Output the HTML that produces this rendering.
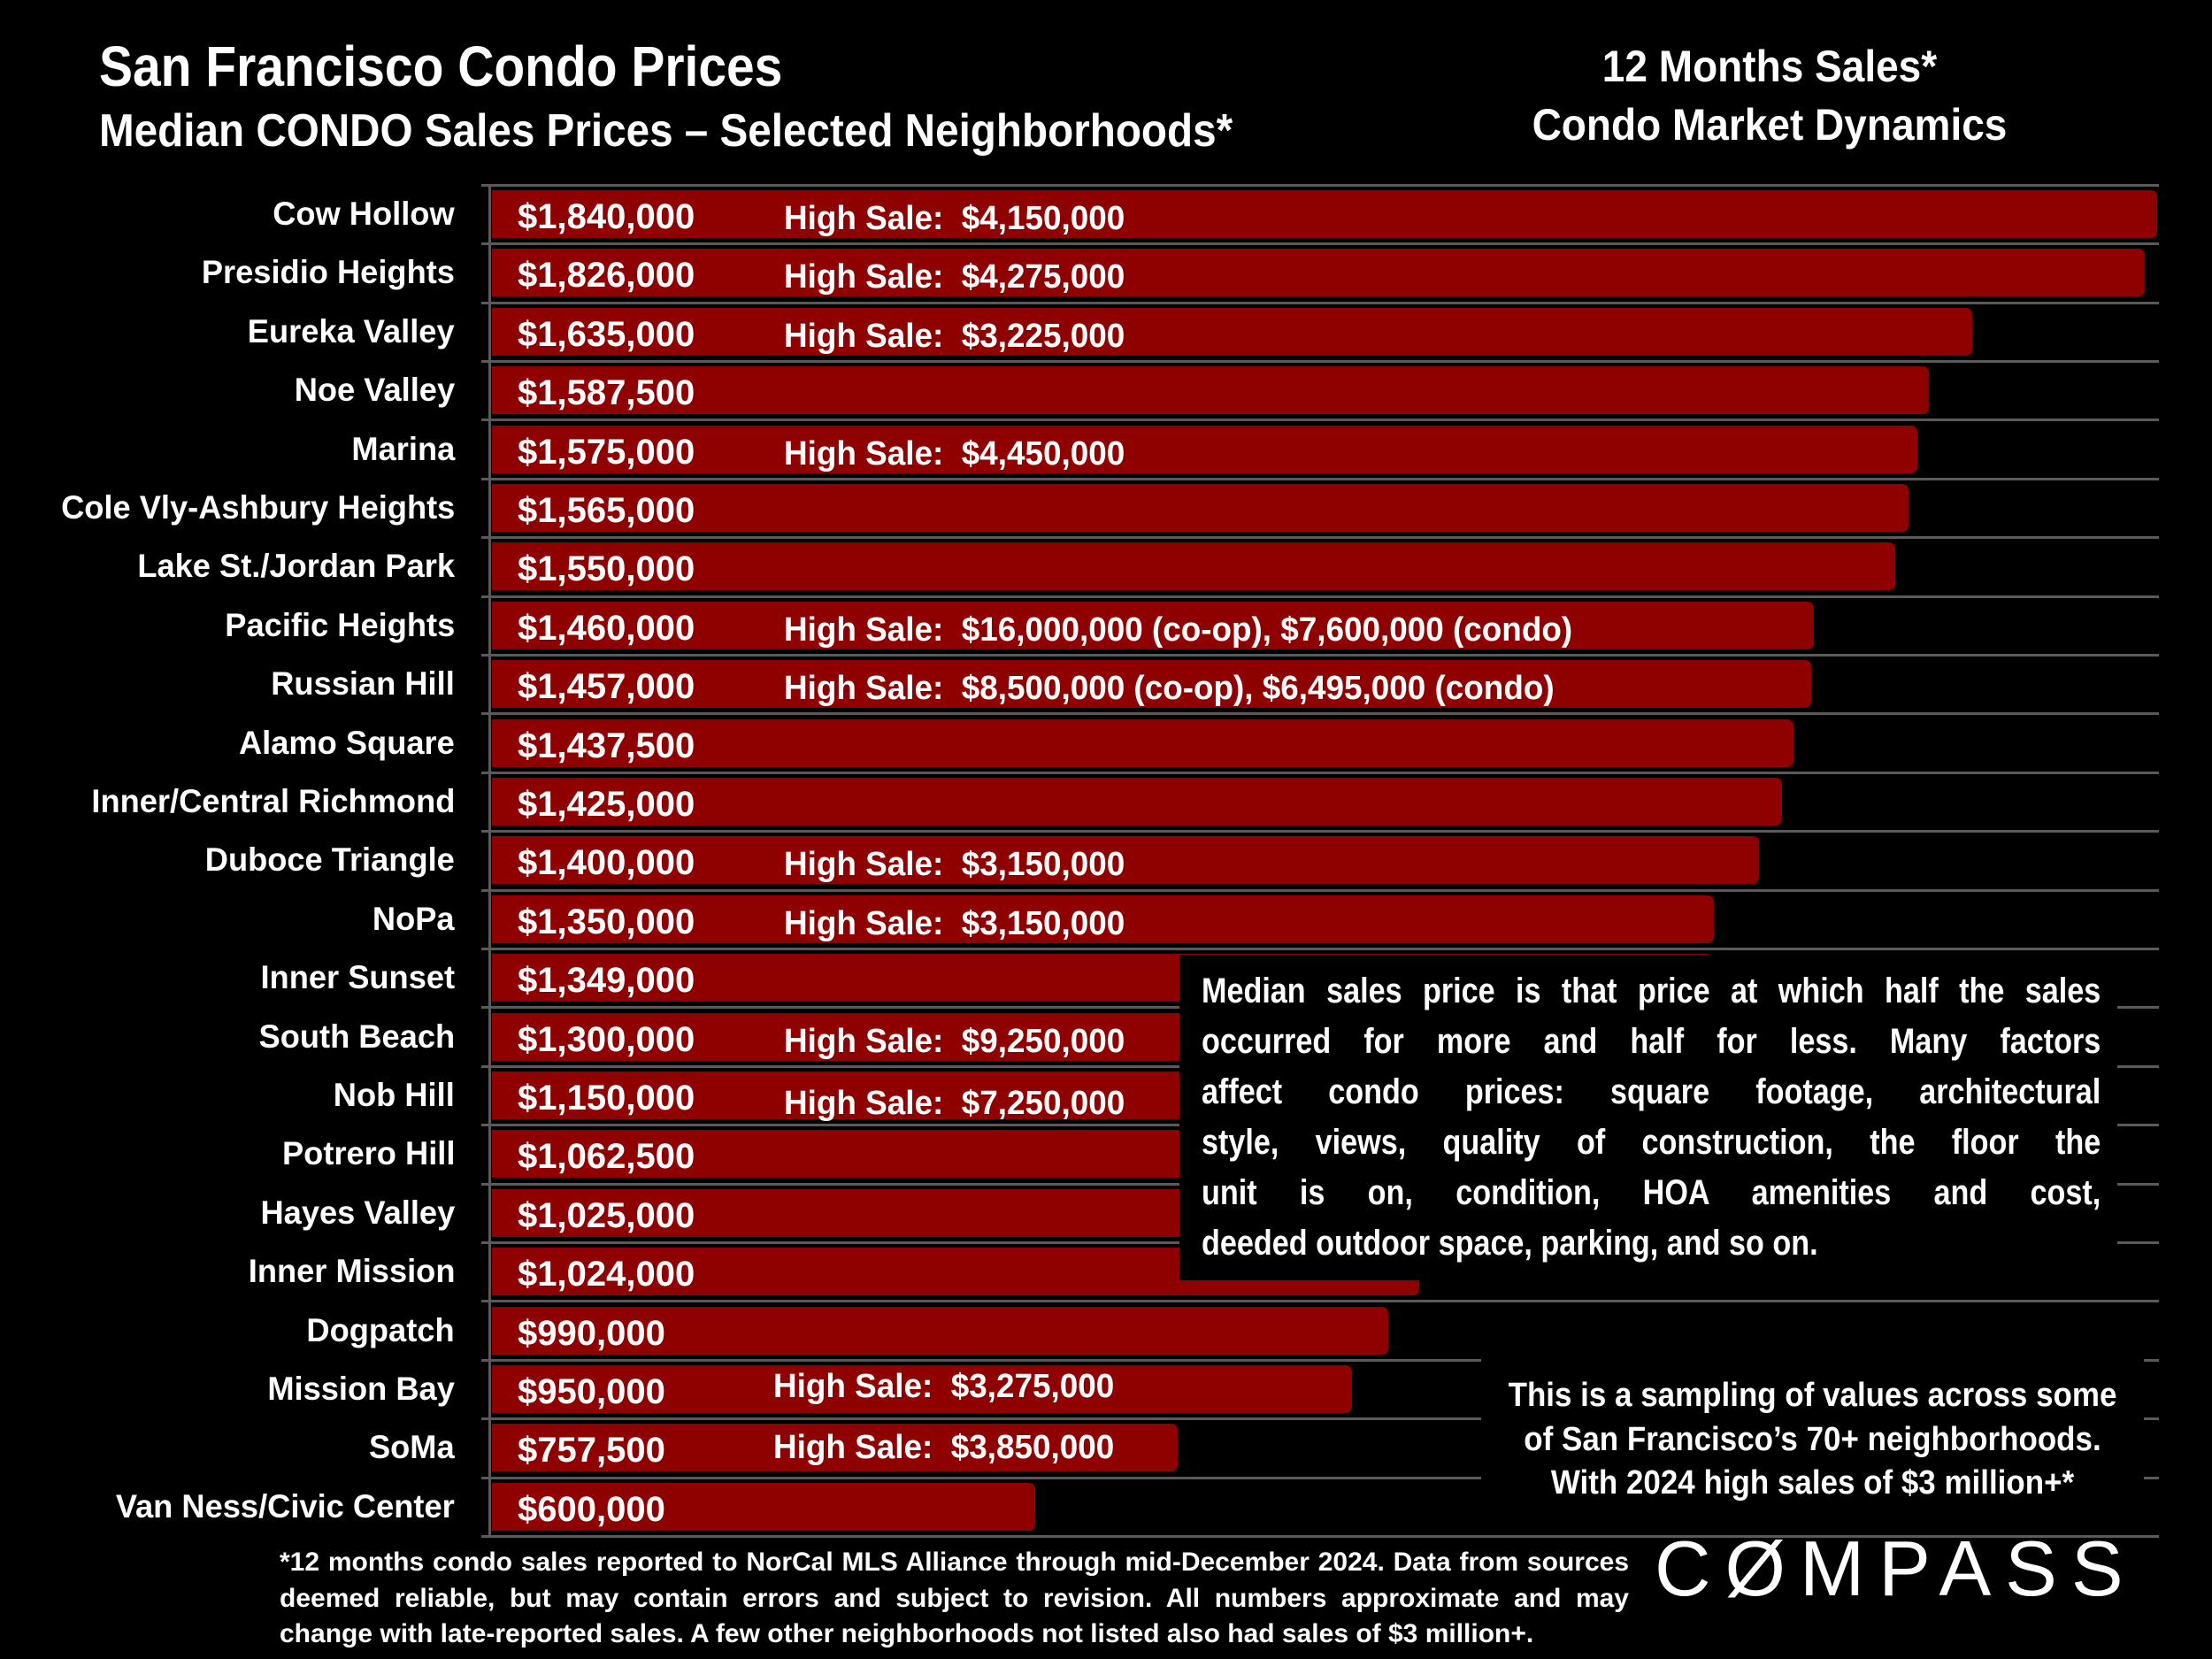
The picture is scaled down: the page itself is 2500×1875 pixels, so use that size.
<!DOCTYPE html>
<html><head><meta charset="utf-8"><style>
*{margin:0;padding:0;box-sizing:border-box}
body{width:2500px;height:1875px;background:#000;position:relative;overflow:hidden;font-family:"Liberation Sans",sans-serif;font-weight:bold;color:#fff}
.a{position:absolute;white-space:pre}
.g{position:absolute;left:544px;width:1896px;height:3px;background:#5a5a5a}
.r{position:absolute;left:0;width:2500px;height:66px}
.l{position:absolute;right:1986px;top:0;line-height:66px;font-size:37px;white-space:pre;transform:scaleX(0.98);transform-origin:right center}
.b{position:absolute;left:556px;top:6px;height:54px;background:#8f0000;border-radius:0 7px 7px 0}
.v{position:absolute;left:585px;top:3px;line-height:66px;font-size:40px;white-space:pre}
.h{position:absolute;left:886px;top:5px;line-height:66px;font-size:38px;white-space:pre;transform:scaleX(0.97);transform-origin:left center}
.j{display:block;text-align:justify;text-align-last:justify;white-space:normal}
</style></head><body>
<div class="a" style="left:112px;top:38px;font-size:64px;transform:scaleX(0.89);transform-origin:left">San Francisco Condo Prices</div>
<div class="a" style="left:112px;top:118px;font-size:52px;transform:scaleX(0.916);transform-origin:left">Median CONDO Sales Prices – Selected Neighborhoods*</div>
<div class="a" style="left:1700px;width:600px;text-align:center;top:46px;font-size:50px;transform:scaleX(0.92)">12 Months Sales*</div>
<div class="a" style="left:1700px;width:600px;text-align:center;top:112px;font-size:50px;transform:scaleX(0.92)">Condo Market Dynamics</div>

<div style="position:absolute;left:552px;top:209px;width:3px;height:1528px;background:#5a5a5a"></div>
<div class="g" style="top:208px"></div><div class="g" style="top:274px"></div><div class="g" style="top:341px"></div><div class="g" style="top:407px"></div><div class="g" style="top:473px"></div><div class="g" style="top:540px"></div><div class="g" style="top:606px"></div><div class="g" style="top:673px"></div><div class="g" style="top:739px"></div><div class="g" style="top:805px"></div><div class="g" style="top:872px"></div><div class="g" style="top:938px"></div><div class="g" style="top:1005px"></div><div class="g" style="top:1071px"></div><div class="g" style="top:1137px"></div><div class="g" style="top:1204px"></div><div class="g" style="top:1270px"></div><div class="g" style="top:1337px"></div><div class="g" style="top:1403px"></div><div class="g" style="top:1469px"></div><div class="g" style="top:1536px"></div><div class="g" style="top:1602px"></div><div class="g" style="top:1669px"></div><div class="g" style="top:1735px"></div>

<div class="r" style="top:209px"><div class="l">Cow Hollow</div><div class="b" style="width:1882px"></div><div class="v">$1,840,000</div><div class="h">High Sale:  $4,150,000</div></div>
<div class="r" style="top:275px"><div class="l">Presidio Heights</div><div class="b" style="width:1868px"></div><div class="v">$1,826,000</div><div class="h">High Sale:  $4,275,000</div></div>
<div class="r" style="top:342px"><div class="l">Eureka Valley</div><div class="b" style="width:1673px"></div><div class="v">$1,635,000</div><div class="h">High Sale:  $3,225,000</div></div>
<div class="r" style="top:408px"><div class="l">Noe Valley</div><div class="b" style="width:1624px"></div><div class="v">$1,587,500</div></div>
<div class="r" style="top:475px"><div class="l">Marina</div><div class="b" style="width:1611px"></div><div class="v">$1,575,000</div><div class="h">High Sale:  $4,450,000</div></div>
<div class="r" style="top:541px"><div class="l">Cole Vly-Ashbury Heights</div><div class="b" style="width:1601px"></div><div class="v">$1,565,000</div></div>
<div class="r" style="top:607px"><div class="l">Lake St./Jordan Park</div><div class="b" style="width:1586px"></div><div class="v">$1,550,000</div></div>
<div class="r" style="top:674px"><div class="l">Pacific Heights</div><div class="b" style="width:1494px"></div><div class="v">$1,460,000</div><div class="h">High Sale:  $16,000,000 (co-op), $7,600,000 (condo)</div></div>
<div class="r" style="top:740px"><div class="l">Russian Hill</div><div class="b" style="width:1491px"></div><div class="v">$1,457,000</div><div class="h">High Sale:  $8,500,000 (co-op), $6,495,000 (condo)</div></div>
<div class="r" style="top:807px"><div class="l">Alamo Square</div><div class="b" style="width:1471px"></div><div class="v">$1,437,500</div></div>
<div class="r" style="top:873px"><div class="l">Inner/Central Richmond</div><div class="b" style="width:1458px"></div><div class="v">$1,425,000</div></div>
<div class="r" style="top:939px"><div class="l">Duboce Triangle</div><div class="b" style="width:1432px"></div><div class="v">$1,400,000</div><div class="h">High Sale:  $3,150,000</div></div>
<div class="r" style="top:1006px"><div class="l">NoPa</div><div class="b" style="width:1381px"></div><div class="v">$1,350,000</div><div class="h">High Sale:  $3,150,000</div></div>
<div class="r" style="top:1072px"><div class="l">Inner Sunset</div><div class="b" style="width:1380px"></div><div class="v">$1,349,000</div></div>
<div class="r" style="top:1139px"><div class="l">South Beach</div><div class="b" style="width:1330px"></div><div class="v">$1,300,000</div><div class="h">High Sale:  $9,250,000</div></div>
<div class="r" style="top:1205px"><div class="l">Nob Hill</div><div class="b" style="width:1176px"></div><div class="v">$1,150,000</div><div class="h" style="top:9px">High Sale:  $7,250,000</div></div>
<div class="r" style="top:1271px"><div class="l">Potrero Hill</div><div class="b" style="width:1087px"></div><div class="v">$1,062,500</div></div>
<div class="r" style="top:1338px"><div class="l">Hayes Valley</div><div class="b" style="width:1049px"></div><div class="v">$1,025,000</div></div>
<div class="r" style="top:1404px"><div class="l">Inner Mission</div><div class="b" style="width:1048px"></div><div class="v">$1,024,000</div></div>
<div class="r" style="top:1471px"><div class="l">Dogpatch</div><div class="b" style="width:1013px"></div><div class="v">$990,000</div></div>
<div class="r" style="top:1537px"><div class="l">Mission Bay</div><div class="b" style="width:972px"></div><div class="v">$950,000</div><div class="h" style="left:874px;top:-3px">High Sale:  $3,275,000</div></div>
<div class="r" style="top:1603px"><div class="l">SoMa</div><div class="b" style="width:775px"></div><div class="v">$757,500</div><div class="h" style="left:874px;top:0">High Sale:  $3,850,000</div></div>
<div class="r" style="top:1670px"><div class="l">Van Ness/Civic Center</div><div class="b" style="width:614px"></div><div class="v">$600,000</div></div>

<div style="position:absolute;left:1333px;top:1079px;width:1060px;height:368px;background:#000"></div>
<div style="position:absolute;left:1358px;top:1092px;width:1190px;font-size:40px;line-height:57px;transform:scaleX(0.854);transform-origin:left top">
<div class="j">Median sales price is that price at which half the sales</div>
<div class="j">occurred for more and half for less. Many factors</div>
<div class="j">affect condo prices: square footage, architectural</div>
<div class="j">style, views, quality of construction, the floor the</div>
<div class="j">unit is on, condition, HOA amenities and cost,</div>
<div style="white-space:nowrap">deeded outdoor space, parking, and so on.</div>
</div>

<div style="position:absolute;left:1674px;top:1530px;width:749px;height:186px;background:#000"></div>
<div style="position:absolute;left:1674px;top:1553px;width:749px;text-align:center;font-size:38px;line-height:49.5px;transform:scaleX(0.92)">This is a sampling of values across some<br>of San Francisco’s 70+ neighborhoods.<br>With 2024 high sales of $3 million+*</div>

<div style="position:absolute;left:316px;top:1746px;width:1525px;font-size:30px;line-height:40.5px">
<div class="j">*12 months condo sales reported to NorCal MLS Alliance through mid-December 2024. Data from sources</div>
<div class="j">deemed reliable, but may contain errors and subject to revision. All numbers approximate and may</div>
<div style="white-space:nowrap">change with late-reported sales. A few other neighborhoods not listed also had sales of $3 million+.</div>
</div>
<div class="a" style="left:1870px;top:1722px;font-size:88px;font-weight:normal;font-family:'Liberation Sans',sans-serif;letter-spacing:16px">CØMPASS</div>
</body></html>
